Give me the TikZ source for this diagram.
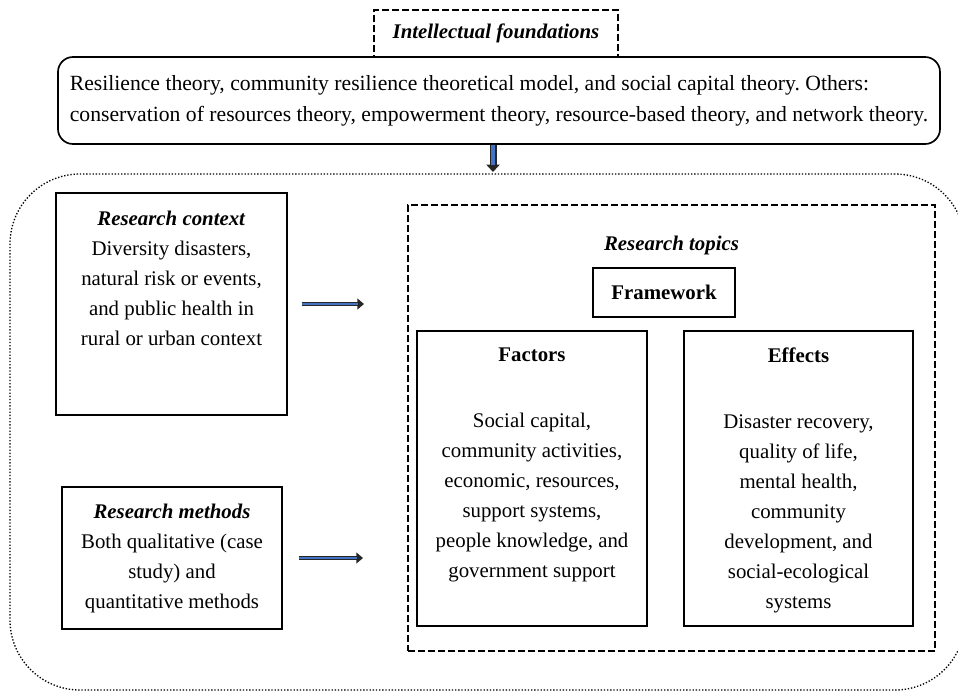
\documentclass[tikz,border=0pt]{standalone}
\usepackage{fontspec}
\setmainfont{Liberation Serif}
\usetikzlibrary{arrows.meta,positioning}
\definecolor{arrblue}{RGB}{68,114,196}
\frenchspacing

\begin{document}
\begin{tikzpicture}[x=0.6pt,y=-0.6pt,font=\fontsize{12.5}{18}\selectfont]
        \tikzstyle{box}=[draw=black,line width=1pt,inner sep=0pt]
        \tikzstyle{dashbox}=[draw=black,line width=0.9pt,dash pattern=on 4pt off 2pt,inner sep=0pt]
        \tikzstyle{txt}=[align=center,inner sep=0pt]
        \tikzstyle{fatarrow}=[draw=black!85,line width=2.6pt,-{Triangle[length=4pt,width=6.5pt]},
          postaction={draw=arrblue,line width=1.1pt,-,shorten >=3.5pt}]
        \tikzstyle{downarrow}=[draw=black!85,line width=4.2pt,-{Triangle[length=4.5pt,width=8pt]},
          postaction={draw=arrblue,line width=2.2pt,-,shorten >=4pt}]

        \useasboundingbox (0,0) rectangle (958,694);

        \begin{scope}
          \node[draw,line width=0.8pt,dash pattern=on 0.8pt off 1.1pt,rounded corners=42pt,inner sep=0pt,
            minimum width=573pt,minimum height=309.6pt](frame) at (487.5,432){};

          \node[dashbox,minimum width=146.4pt,minimum height=28.2pt](found) at (496,33.5)
            {\textbf{\textit{Intellectual foundations}}};
          \node[box,fill=white,rounded corners=9pt,align=left,font=\fontsize{13}{18.5}\selectfont,
            minimum width=529.2pt,minimum height=52.2pt](theo) at (499,100.5)
            {Resilience theory, community resilience theoretical model, and social capital theory. Others:\\
             conservation of resources theory, empowerment theory, resource-based theory, and network theory.};

          \coordinate(d1) at (493,172);
          \draw[downarrow] (theo.south -| d1) -- (d1);

          % left column
          \node[box,minimum width=138.6pt,minimum height=133.2pt](ctx) at (171.5,304){};
          \node[txt,below=11pt of ctx.north](ctxt){\textbf{\textit{Research context}}\\Diversity disasters,\\
            natural risk or events,\\and public health in\\rural or urban context};

          \node[box,align=center,minimum width=132pt,minimum height=85.2pt](mth) at (172,558)
            {\textbf{\textit{Research methods}}\\Both qualitative (case\\study) and\\quantitative methods};

          \coordinate(a1) at (364,304);
          \draw[fatarrow] ([xshift=8.4pt]ctx.east) -- (a1);
          \coordinate(a2) at (363,558);
          \draw[fatarrow] ([xshift=9.6pt]mth.east) -- (a2);

          % research topics
          \node[dashbox,minimum width=316.2pt,minimum height=267.6pt](topic) at (671.5,428){};
          \node[txt,below=18.6pt of topic.north](topict){\textbf{\textit{Research topics}}};
          \node[box,minimum width=85.2pt,minimum height=29.4pt](frm) at (664,292.5){\textbf{Framework}};

          \node[box,minimum width=138pt,minimum height=177pt](fac) at (532,478.5){};
          \node[txt,below=10.2pt of fac.north](fact){\textbf{Factors}\\[21.6pt]Social capital,\\
            community activities,\\economic, resources,\\support systems,\\people knowledge, and\\government support};

          \node[box,minimum width=137.4pt,minimum height=177pt](eff) at (798.5,478.5){};
          \node[txt,below=10.2pt of eff.north](efft){\textbf{Effects}\\[21.6pt]Disaster recovery,\\
            quality of life,\\mental health,\\community\\development, and\\social-ecological\\systems};
        \end{scope}
      \end{tikzpicture}
\end{document}
